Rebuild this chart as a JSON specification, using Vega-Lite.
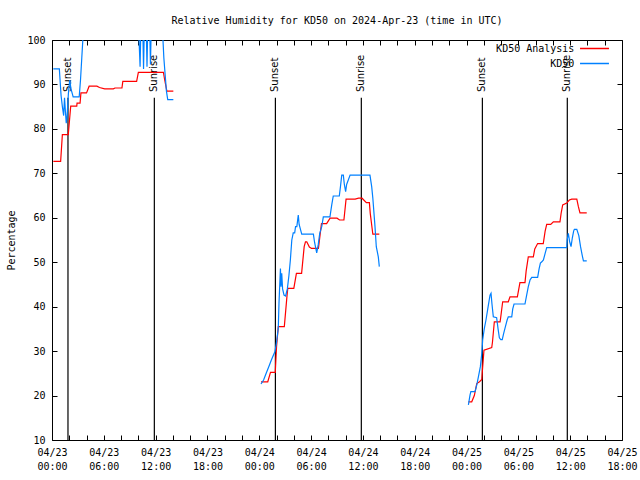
{
  "$schema": "https://vega.github.io/schema/vega-lite/v6.json",
  "width": 570,
  "height": 400,
  "autosize": {"type": "none"},
  "padding": {"left": 52, "top": 40, "right": 18, "bottom": 40},
  "background": "white",
  "title": {"text": "Relative Humidity for KD50 on 2024-Apr-23 (time in UTC)", "font": "DejaVu Sans Mono", "fontSize": 10, "fontWeight": "normal", "anchor": "middle", "baseline": "alphabetic", "offset": 1, "color": "black"},
  "config": {
    "view": {"stroke": "black", "strokeWidth": 1},
    "axis": {"domain": false, "grid": false, "labelFont": "DejaVu Sans Mono", "labelFontSize": 10, "labelColor": "black", "tickColor": "black", "tickSize": -5, "tickWidth": 1, "titleFont": "DejaVu Sans Mono", "titleFontSize": 10, "titleFontWeight": "normal", "titleColor": "black"},
    "legend": {"labelFont": "DejaVu Sans Mono", "labelFontSize": 10, "labelColor": "black"}
  },
  "datasets": {
    "rh": [
      {"time": "2024-04-23T00:09:00Z", "rh": 72.7, "series": "KD50 Analysis", "day": "23"},
      {"time": "2024-04-23T01:00:00Z", "rh": 72.7, "series": "KD50 Analysis", "day": "23"},
      {"time": "2024-04-23T01:12:00Z", "rh": 78.7, "series": "KD50 Analysis", "day": "23"},
      {"time": "2024-04-23T01:53:00Z", "rh": 78.7, "series": "KD50 Analysis", "day": "23"},
      {"time": "2024-04-23T02:10:00Z", "rh": 85.1, "series": "KD50 Analysis", "day": "23"},
      {"time": "2024-04-23T02:52:00Z", "rh": 85.1, "series": "KD50 Analysis", "day": "23"},
      {"time": "2024-04-23T02:54:00Z", "rh": 85.8, "series": "KD50 Analysis", "day": "23"},
      {"time": "2024-04-23T03:15:00Z", "rh": 85.8, "series": "KD50 Analysis", "day": "23"},
      {"time": "2024-04-23T03:21:00Z", "rh": 88.1, "series": "KD50 Analysis", "day": "23"},
      {"time": "2024-04-23T04:00:00Z", "rh": 88.1, "series": "KD50 Analysis", "day": "23"},
      {"time": "2024-04-23T04:18:00Z", "rh": 89.6, "series": "KD50 Analysis", "day": "23"},
      {"time": "2024-04-23T05:12:00Z", "rh": 89.6, "series": "KD50 Analysis", "day": "23"},
      {"time": "2024-04-23T05:30:00Z", "rh": 89.3, "series": "KD50 Analysis", "day": "23"},
      {"time": "2024-04-23T06:06:00Z", "rh": 89.0, "series": "KD50 Analysis", "day": "23"},
      {"time": "2024-04-23T07:06:00Z", "rh": 89.0, "series": "KD50 Analysis", "day": "23"},
      {"time": "2024-04-23T07:18:00Z", "rh": 89.2, "series": "KD50 Analysis", "day": "23"},
      {"time": "2024-04-23T08:06:00Z", "rh": 89.2, "series": "KD50 Analysis", "day": "23"},
      {"time": "2024-04-23T08:12:00Z", "rh": 90.7, "series": "KD50 Analysis", "day": "23"},
      {"time": "2024-04-23T09:48:00Z", "rh": 90.7, "series": "KD50 Analysis", "day": "23"},
      {"time": "2024-04-23T10:00:00Z", "rh": 92.7, "series": "KD50 Analysis", "day": "23"},
      {"time": "2024-04-23T12:54:00Z", "rh": 92.7, "series": "KD50 Analysis", "day": "23"},
      {"time": "2024-04-23T13:03:00Z", "rh": 91.0, "series": "KD50 Analysis", "day": "23"},
      {"time": "2024-04-23T13:18:00Z", "rh": 88.5, "series": "KD50 Analysis", "day": "23"},
      {"time": "2024-04-23T14:03:00Z", "rh": 88.5, "series": "KD50 Analysis", "day": "23"},

      {"time": "2024-04-24T00:12:00Z", "rh": 23.1, "series": "KD50 Analysis", "day": "24"},
      {"time": "2024-04-24T00:59:00Z", "rh": 23.1, "series": "KD50 Analysis", "day": "24"},
      {"time": "2024-04-24T01:18:00Z", "rh": 25.2, "series": "KD50 Analysis", "day": "24"},
      {"time": "2024-04-24T01:51:00Z", "rh": 25.2, "series": "KD50 Analysis", "day": "24"},
      {"time": "2024-04-24T02:00:00Z", "rh": 31.0, "series": "KD50 Analysis", "day": "24"},
      {"time": "2024-04-24T02:12:00Z", "rh": 35.5, "series": "KD50 Analysis", "day": "24"},
      {"time": "2024-04-24T02:54:00Z", "rh": 35.5, "series": "KD50 Analysis", "day": "24"},
      {"time": "2024-04-24T03:12:00Z", "rh": 42.2, "series": "KD50 Analysis", "day": "24"},
      {"time": "2024-04-24T03:18:00Z", "rh": 44.1, "series": "KD50 Analysis", "day": "24"},
      {"time": "2024-04-24T04:00:00Z", "rh": 44.1, "series": "KD50 Analysis", "day": "24"},
      {"time": "2024-04-24T04:18:00Z", "rh": 47.5, "series": "KD50 Analysis", "day": "24"},
      {"time": "2024-04-24T04:54:00Z", "rh": 47.5, "series": "KD50 Analysis", "day": "24"},
      {"time": "2024-04-24T05:12:00Z", "rh": 53.5, "series": "KD50 Analysis", "day": "24"},
      {"time": "2024-04-24T05:21:00Z", "rh": 54.6, "series": "KD50 Analysis", "day": "24"},
      {"time": "2024-04-24T05:30:00Z", "rh": 54.6, "series": "KD50 Analysis", "day": "24"},
      {"time": "2024-04-24T05:48:00Z", "rh": 53.4, "series": "KD50 Analysis", "day": "24"},
      {"time": "2024-04-24T06:03:00Z", "rh": 53.1, "series": "KD50 Analysis", "day": "24"},
      {"time": "2024-04-24T06:51:00Z", "rh": 53.1, "series": "KD50 Analysis", "day": "24"},
      {"time": "2024-04-24T07:12:00Z", "rh": 58.7, "series": "KD50 Analysis", "day": "24"},
      {"time": "2024-04-24T07:48:00Z", "rh": 58.7, "series": "KD50 Analysis", "day": "24"},
      {"time": "2024-04-24T08:12:00Z", "rh": 59.9, "series": "KD50 Analysis", "day": "24"},
      {"time": "2024-04-24T09:00:00Z", "rh": 59.9, "series": "KD50 Analysis", "day": "24"},
      {"time": "2024-04-24T09:18:00Z", "rh": 59.5, "series": "KD50 Analysis", "day": "24"},
      {"time": "2024-04-24T09:48:00Z", "rh": 59.5, "series": "KD50 Analysis", "day": "24"},
      {"time": "2024-04-24T10:03:00Z", "rh": 64.2, "series": "KD50 Analysis", "day": "24"},
      {"time": "2024-04-24T11:06:00Z", "rh": 64.2, "series": "KD50 Analysis", "day": "24"},
      {"time": "2024-04-24T11:30:00Z", "rh": 64.4, "series": "KD50 Analysis", "day": "24"},
      {"time": "2024-04-24T11:54:00Z", "rh": 64.4, "series": "KD50 Analysis", "day": "24"},
      {"time": "2024-04-24T12:24:00Z", "rh": 63.4, "series": "KD50 Analysis", "day": "24"},
      {"time": "2024-04-24T12:45:00Z", "rh": 63.4, "series": "KD50 Analysis", "day": "24"},
      {"time": "2024-04-24T12:51:00Z", "rh": 61.0, "series": "KD50 Analysis", "day": "24"},
      {"time": "2024-04-24T13:09:00Z", "rh": 56.3, "series": "KD50 Analysis", "day": "24"},
      {"time": "2024-04-24T13:54:00Z", "rh": 56.3, "series": "KD50 Analysis", "day": "24"},

      {"time": "2024-04-25T00:13:00Z", "rh": 18.6, "series": "KD50 Analysis", "day": "25"},
      {"time": "2024-04-25T00:36:00Z", "rh": 18.6, "series": "KD50 Analysis", "day": "25"},
      {"time": "2024-04-25T00:54:00Z", "rh": 20.0, "series": "KD50 Analysis", "day": "25"},
      {"time": "2024-04-25T01:11:00Z", "rh": 22.7, "series": "KD50 Analysis", "day": "25"},
      {"time": "2024-04-25T01:30:00Z", "rh": 23.1, "series": "KD50 Analysis", "day": "25"},
      {"time": "2024-04-25T01:46:00Z", "rh": 23.6, "series": "KD50 Analysis", "day": "25"},
      {"time": "2024-04-25T01:51:00Z", "rh": 26.0, "series": "KD50 Analysis", "day": "25"},
      {"time": "2024-04-25T02:01:00Z", "rh": 30.2, "series": "KD50 Analysis", "day": "25"},
      {"time": "2024-04-25T02:55:00Z", "rh": 30.8, "series": "KD50 Analysis", "day": "25"},
      {"time": "2024-04-25T03:00:00Z", "rh": 32.0, "series": "KD50 Analysis", "day": "25"},
      {"time": "2024-04-25T03:13:00Z", "rh": 36.6, "series": "KD50 Analysis", "day": "25"},
      {"time": "2024-04-25T03:53:00Z", "rh": 36.6, "series": "KD50 Analysis", "day": "25"},
      {"time": "2024-04-25T03:57:00Z", "rh": 37.5, "series": "KD50 Analysis", "day": "25"},
      {"time": "2024-04-25T04:11:00Z", "rh": 41.1, "series": "KD50 Analysis", "day": "25"},
      {"time": "2024-04-25T04:50:00Z", "rh": 41.1, "series": "KD50 Analysis", "day": "25"},
      {"time": "2024-04-25T05:02:00Z", "rh": 42.2, "series": "KD50 Analysis", "day": "25"},
      {"time": "2024-04-25T05:53:00Z", "rh": 42.2, "series": "KD50 Analysis", "day": "25"},
      {"time": "2024-04-25T06:11:00Z", "rh": 45.4, "series": "KD50 Analysis", "day": "25"},
      {"time": "2024-04-25T06:46:00Z", "rh": 45.4, "series": "KD50 Analysis", "day": "25"},
      {"time": "2024-04-25T06:54:00Z", "rh": 48.0, "series": "KD50 Analysis", "day": "25"},
      {"time": "2024-04-25T07:09:00Z", "rh": 51.2, "series": "KD50 Analysis", "day": "25"},
      {"time": "2024-04-25T07:44:00Z", "rh": 51.2, "series": "KD50 Analysis", "day": "25"},
      {"time": "2024-04-25T07:54:00Z", "rh": 53.0, "series": "KD50 Analysis", "day": "25"},
      {"time": "2024-04-25T08:14:00Z", "rh": 54.2, "series": "KD50 Analysis", "day": "25"},
      {"time": "2024-04-25T08:53:00Z", "rh": 54.2, "series": "KD50 Analysis", "day": "25"},
      {"time": "2024-04-25T09:06:00Z", "rh": 57.0, "series": "KD50 Analysis", "day": "25"},
      {"time": "2024-04-25T09:17:00Z", "rh": 58.5, "series": "KD50 Analysis", "day": "25"},
      {"time": "2024-04-25T09:45:00Z", "rh": 58.5, "series": "KD50 Analysis", "day": "25"},
      {"time": "2024-04-25T10:03:00Z", "rh": 59.1, "series": "KD50 Analysis", "day": "25"},
      {"time": "2024-04-25T10:49:00Z", "rh": 59.1, "series": "KD50 Analysis", "day": "25"},
      {"time": "2024-04-25T10:57:00Z", "rh": 61.0, "series": "KD50 Analysis", "day": "25"},
      {"time": "2024-04-25T11:08:00Z", "rh": 62.9, "series": "KD50 Analysis", "day": "25"},
      {"time": "2024-04-25T11:36:00Z", "rh": 63.3, "series": "KD50 Analysis", "day": "25"},
      {"time": "2024-04-25T11:54:00Z", "rh": 64.0, "series": "KD50 Analysis", "day": "25"},
      {"time": "2024-04-25T12:11:00Z", "rh": 64.2, "series": "KD50 Analysis", "day": "25"},
      {"time": "2024-04-25T12:46:00Z", "rh": 64.2, "series": "KD50 Analysis", "day": "25"},
      {"time": "2024-04-25T12:57:00Z", "rh": 62.5, "series": "KD50 Analysis", "day": "25"},
      {"time": "2024-04-25T13:08:00Z", "rh": 61.1, "series": "KD50 Analysis", "day": "25"},
      {"time": "2024-04-25T13:55:00Z", "rh": 61.1, "series": "KD50 Analysis", "day": "25"},

      {"time": "2024-04-23T00:09:00Z", "rh": 93.5, "series": "KD50", "day": "23"},
      {"time": "2024-04-23T00:51:00Z", "rh": 93.5, "series": "KD50", "day": "23"},
      {"time": "2024-04-23T00:57:00Z", "rh": 90.5, "series": "KD50", "day": "23"},
      {"time": "2024-04-23T01:03:00Z", "rh": 87.5, "series": "KD50", "day": "23"},
      {"time": "2024-04-23T01:12:00Z", "rh": 85.0, "series": "KD50", "day": "23"},
      {"time": "2024-04-23T01:21:00Z", "rh": 83.0, "series": "KD50", "day": "23"},
      {"time": "2024-04-23T01:27:00Z", "rh": 87.0, "series": "KD50", "day": "23"},
      {"time": "2024-04-23T01:33:00Z", "rh": 84.0, "series": "KD50", "day": "23"},
      {"time": "2024-04-23T01:39:00Z", "rh": 81.3, "series": "KD50", "day": "23"},
      {"time": "2024-04-23T01:45:00Z", "rh": 83.0, "series": "KD50", "day": "23"},
      {"time": "2024-04-23T01:54:00Z", "rh": 88.0, "series": "KD50", "day": "23"},
      {"time": "2024-04-23T02:03:00Z", "rh": 91.0, "series": "KD50", "day": "23"},
      {"time": "2024-04-23T02:12:00Z", "rh": 89.0, "series": "KD50", "day": "23"},
      {"time": "2024-04-23T02:27:00Z", "rh": 87.2, "series": "KD50", "day": "23"},
      {"time": "2024-04-23T03:09:00Z", "rh": 87.2, "series": "KD50", "day": "23"},
      {"time": "2024-04-23T03:18:00Z", "rh": 91.0, "series": "KD50", "day": "23"},
      {"time": "2024-04-23T03:27:00Z", "rh": 96.0, "series": "KD50", "day": "23"},
      {"time": "2024-04-23T03:36:00Z", "rh": 101.0, "series": "KD50", "day": "23"},
      {"time": "2024-04-23T03:45:00Z", "rh": 104.0, "series": "KD50", "day": "23"},
      {"time": "2024-04-23T10:00:00Z", "rh": 104.0, "series": "KD50", "day": "23"},
      {"time": "2024-04-23T10:12:00Z", "rh": 94.0, "series": "KD50", "day": "23"},
      {"time": "2024-04-23T10:18:00Z", "rh": 104.0, "series": "KD50", "day": "23"},
      {"time": "2024-04-23T10:30:00Z", "rh": 104.0, "series": "KD50", "day": "23"},
      {"time": "2024-04-23T10:36:00Z", "rh": 93.5, "series": "KD50", "day": "23"},
      {"time": "2024-04-23T10:42:00Z", "rh": 104.0, "series": "KD50", "day": "23"},
      {"time": "2024-04-23T10:54:00Z", "rh": 104.0, "series": "KD50", "day": "23"},
      {"time": "2024-04-23T11:00:00Z", "rh": 94.0, "series": "KD50", "day": "23"},
      {"time": "2024-04-23T11:06:00Z", "rh": 104.0, "series": "KD50", "day": "23"},
      {"time": "2024-04-23T11:18:00Z", "rh": 104.0, "series": "KD50", "day": "23"},
      {"time": "2024-04-23T11:24:00Z", "rh": 94.5, "series": "KD50", "day": "23"},
      {"time": "2024-04-23T11:30:00Z", "rh": 104.0, "series": "KD50", "day": "23"},
      {"time": "2024-04-23T12:45:00Z", "rh": 104.0, "series": "KD50", "day": "23"},
      {"time": "2024-04-23T12:57:00Z", "rh": 96.0, "series": "KD50", "day": "23"},
      {"time": "2024-04-23T13:06:00Z", "rh": 92.2, "series": "KD50", "day": "23"},
      {"time": "2024-04-23T13:15:00Z", "rh": 88.5, "series": "KD50", "day": "23"},
      {"time": "2024-04-23T13:24:00Z", "rh": 86.6, "series": "KD50", "day": "23"},
      {"time": "2024-04-23T14:03:00Z", "rh": 86.6, "series": "KD50", "day": "23"},

      {"time": "2024-04-24T00:12:00Z", "rh": 22.6, "series": "KD50", "day": "24"},
      {"time": "2024-04-24T00:30:00Z", "rh": 23.5, "series": "KD50", "day": "24"},
      {"time": "2024-04-24T00:48:00Z", "rh": 25.0, "series": "KD50", "day": "24"},
      {"time": "2024-04-24T01:06:00Z", "rh": 26.5, "series": "KD50", "day": "24"},
      {"time": "2024-04-24T01:24:00Z", "rh": 28.0, "series": "KD50", "day": "24"},
      {"time": "2024-04-24T01:49:00Z", "rh": 29.9, "series": "KD50", "day": "24"},
      {"time": "2024-04-24T02:00:00Z", "rh": 32.0, "series": "KD50", "day": "24"},
      {"time": "2024-04-24T02:12:00Z", "rh": 35.1, "series": "KD50", "day": "24"},
      {"time": "2024-04-24T02:17:00Z", "rh": 40.8, "series": "KD50", "day": "24"},
      {"time": "2024-04-24T02:27:00Z", "rh": 48.6, "series": "KD50", "day": "24"},
      {"time": "2024-04-24T02:31:00Z", "rh": 44.5, "series": "KD50", "day": "24"},
      {"time": "2024-04-24T02:36:00Z", "rh": 47.5, "series": "KD50", "day": "24"},
      {"time": "2024-04-24T02:42:00Z", "rh": 44.0, "series": "KD50", "day": "24"},
      {"time": "2024-04-24T02:52:00Z", "rh": 42.6, "series": "KD50", "day": "24"},
      {"time": "2024-04-24T03:03:00Z", "rh": 42.4, "series": "KD50", "day": "24"},
      {"time": "2024-04-24T03:15:00Z", "rh": 44.0, "series": "KD50", "day": "24"},
      {"time": "2024-04-24T03:26:00Z", "rh": 47.0, "series": "KD50", "day": "24"},
      {"time": "2024-04-24T03:36:00Z", "rh": 50.5, "series": "KD50", "day": "24"},
      {"time": "2024-04-24T03:46:00Z", "rh": 55.0, "series": "KD50", "day": "24"},
      {"time": "2024-04-24T03:56:00Z", "rh": 56.6, "series": "KD50", "day": "24"},
      {"time": "2024-04-24T04:06:00Z", "rh": 56.6, "series": "KD50", "day": "24"},
      {"time": "2024-04-24T04:12:00Z", "rh": 58.0, "series": "KD50", "day": "24"},
      {"time": "2024-04-24T04:21:00Z", "rh": 58.0, "series": "KD50", "day": "24"},
      {"time": "2024-04-24T04:27:00Z", "rh": 59.6, "series": "KD50", "day": "24"},
      {"time": "2024-04-24T04:31:00Z", "rh": 60.6, "series": "KD50", "day": "24"},
      {"time": "2024-04-24T04:37:00Z", "rh": 58.5, "series": "KD50", "day": "24"},
      {"time": "2024-04-24T04:55:00Z", "rh": 56.3, "series": "KD50", "day": "24"},
      {"time": "2024-04-24T06:16:00Z", "rh": 56.3, "series": "KD50", "day": "24"},
      {"time": "2024-04-24T06:24:00Z", "rh": 54.5, "series": "KD50", "day": "24"},
      {"time": "2024-04-24T06:34:00Z", "rh": 52.9, "series": "KD50", "day": "24"},
      {"time": "2024-04-24T06:39:00Z", "rh": 52.1, "series": "KD50", "day": "24"},
      {"time": "2024-04-24T06:50:00Z", "rh": 54.0, "series": "KD50", "day": "24"},
      {"time": "2024-04-24T07:00:00Z", "rh": 56.5, "series": "KD50", "day": "24"},
      {"time": "2024-04-24T07:14:00Z", "rh": 58.0, "series": "KD50", "day": "24"},
      {"time": "2024-04-24T07:25:00Z", "rh": 60.2, "series": "KD50", "day": "24"},
      {"time": "2024-04-24T08:11:00Z", "rh": 60.2, "series": "KD50", "day": "24"},
      {"time": "2024-04-24T08:24:00Z", "rh": 63.0, "series": "KD50", "day": "24"},
      {"time": "2024-04-24T08:34:00Z", "rh": 64.9, "series": "KD50", "day": "24"},
      {"time": "2024-04-24T09:16:00Z", "rh": 64.9, "series": "KD50", "day": "24"},
      {"time": "2024-04-24T09:24:00Z", "rh": 67.0, "series": "KD50", "day": "24"},
      {"time": "2024-04-24T09:33:00Z", "rh": 69.6, "series": "KD50", "day": "24"},
      {"time": "2024-04-24T09:44:00Z", "rh": 69.6, "series": "KD50", "day": "24"},
      {"time": "2024-04-24T09:51:00Z", "rh": 67.5, "series": "KD50", "day": "24"},
      {"time": "2024-04-24T10:00:00Z", "rh": 65.9, "series": "KD50", "day": "24"},
      {"time": "2024-04-24T10:07:00Z", "rh": 67.5, "series": "KD50", "day": "24"},
      {"time": "2024-04-24T10:31:00Z", "rh": 69.6, "series": "KD50", "day": "24"},
      {"time": "2024-04-24T12:49:00Z", "rh": 69.6, "series": "KD50", "day": "24"},
      {"time": "2024-04-24T13:01:00Z", "rh": 67.0, "series": "KD50", "day": "24"},
      {"time": "2024-04-24T13:09:00Z", "rh": 64.4, "series": "KD50", "day": "24"},
      {"time": "2024-04-24T13:24:00Z", "rh": 58.0, "series": "KD50", "day": "24"},
      {"time": "2024-04-24T13:33:00Z", "rh": 53.5, "series": "KD50", "day": "24"},
      {"time": "2024-04-24T13:47:00Z", "rh": 51.2, "series": "KD50", "day": "24"},
      {"time": "2024-04-24T13:54:00Z", "rh": 49.0, "series": "KD50", "day": "24"},

      {"time": "2024-04-25T00:13:00Z", "rh": 17.9, "series": "KD50", "day": "25"},
      {"time": "2024-04-25T00:24:00Z", "rh": 20.1, "series": "KD50", "day": "25"},
      {"time": "2024-04-25T00:30:00Z", "rh": 20.9, "series": "KD50", "day": "25"},
      {"time": "2024-04-25T00:59:00Z", "rh": 20.9, "series": "KD50", "day": "25"},
      {"time": "2024-04-25T01:12:00Z", "rh": 22.5, "series": "KD50", "day": "25"},
      {"time": "2024-04-25T01:24:00Z", "rh": 24.5, "series": "KD50", "day": "25"},
      {"time": "2024-04-25T01:36:00Z", "rh": 26.5, "series": "KD50", "day": "25"},
      {"time": "2024-04-25T01:46:00Z", "rh": 29.5, "series": "KD50", "day": "25"},
      {"time": "2024-04-25T01:52:00Z", "rh": 32.5, "series": "KD50", "day": "25"},
      {"time": "2024-04-25T02:03:00Z", "rh": 35.0, "series": "KD50", "day": "25"},
      {"time": "2024-04-25T02:15:00Z", "rh": 37.0, "series": "KD50", "day": "25"},
      {"time": "2024-04-25T02:30:00Z", "rh": 40.0, "series": "KD50", "day": "25"},
      {"time": "2024-04-25T02:43:00Z", "rh": 42.6, "series": "KD50", "day": "25"},
      {"time": "2024-04-25T02:50:00Z", "rh": 43.0, "series": "KD50", "day": "25"},
      {"time": "2024-04-25T02:57:00Z", "rh": 40.5, "series": "KD50", "day": "25"},
      {"time": "2024-04-25T03:06:00Z", "rh": 37.7, "series": "KD50", "day": "25"},
      {"time": "2024-04-25T03:29:00Z", "rh": 37.5, "series": "KD50", "day": "25"},
      {"time": "2024-04-25T03:39:00Z", "rh": 35.0, "series": "KD50", "day": "25"},
      {"time": "2024-04-25T03:48:00Z", "rh": 33.0, "series": "KD50", "day": "25"},
      {"time": "2024-04-25T03:58:00Z", "rh": 32.6, "series": "KD50", "day": "25"},
      {"time": "2024-04-25T04:08:00Z", "rh": 32.6, "series": "KD50", "day": "25"},
      {"time": "2024-04-25T04:18:00Z", "rh": 34.0, "series": "KD50", "day": "25"},
      {"time": "2024-04-25T04:30:00Z", "rh": 35.5, "series": "KD50", "day": "25"},
      {"time": "2024-04-25T04:42:00Z", "rh": 37.0, "series": "KD50", "day": "25"},
      {"time": "2024-04-25T04:50:00Z", "rh": 37.7, "series": "KD50", "day": "25"},
      {"time": "2024-04-25T05:14:00Z", "rh": 37.7, "series": "KD50", "day": "25"},
      {"time": "2024-04-25T05:21:00Z", "rh": 39.5, "series": "KD50", "day": "25"},
      {"time": "2024-04-25T05:30:00Z", "rh": 40.6, "series": "KD50", "day": "25"},
      {"time": "2024-04-25T06:46:00Z", "rh": 40.6, "series": "KD50", "day": "25"},
      {"time": "2024-04-25T06:57:00Z", "rh": 42.5, "series": "KD50", "day": "25"},
      {"time": "2024-04-25T07:09:00Z", "rh": 44.5, "series": "KD50", "day": "25"},
      {"time": "2024-04-25T07:21:00Z", "rh": 46.0, "series": "KD50", "day": "25"},
      {"time": "2024-04-25T07:33:00Z", "rh": 46.6, "series": "KD50", "day": "25"},
      {"time": "2024-04-25T08:14:00Z", "rh": 46.6, "series": "KD50", "day": "25"},
      {"time": "2024-04-25T08:24:00Z", "rh": 48.5, "series": "KD50", "day": "25"},
      {"time": "2024-04-25T08:33:00Z", "rh": 49.8, "series": "KD50", "day": "25"},
      {"time": "2024-04-25T08:43:00Z", "rh": 50.1, "series": "KD50", "day": "25"},
      {"time": "2024-04-25T08:54:00Z", "rh": 50.5, "series": "KD50", "day": "25"},
      {"time": "2024-04-25T09:06:00Z", "rh": 52.0, "series": "KD50", "day": "25"},
      {"time": "2024-04-25T09:17:00Z", "rh": 53.3, "series": "KD50", "day": "25"},
      {"time": "2024-04-25T11:36:00Z", "rh": 53.3, "series": "KD50", "day": "25"},
      {"time": "2024-04-25T11:39:00Z", "rh": 55.0, "series": "KD50", "day": "25"},
      {"time": "2024-04-25T11:47:00Z", "rh": 56.5, "series": "KD50", "day": "25"},
      {"time": "2024-04-25T11:57:00Z", "rh": 54.5, "series": "KD50", "day": "25"},
      {"time": "2024-04-25T12:06:00Z", "rh": 53.5, "series": "KD50", "day": "25"},
      {"time": "2024-04-25T12:15:00Z", "rh": 55.5, "series": "KD50", "day": "25"},
      {"time": "2024-04-25T12:24:00Z", "rh": 57.0, "series": "KD50", "day": "25"},
      {"time": "2024-04-25T12:29:00Z", "rh": 57.4, "series": "KD50", "day": "25"},
      {"time": "2024-04-25T12:46:00Z", "rh": 57.4, "series": "KD50", "day": "25"},
      {"time": "2024-04-25T13:00:00Z", "rh": 56.0, "series": "KD50", "day": "25"},
      {"time": "2024-04-25T13:12:00Z", "rh": 53.5, "series": "KD50", "day": "25"},
      {"time": "2024-04-25T13:24:00Z", "rh": 51.5, "series": "KD50", "day": "25"},
      {"time": "2024-04-25T13:32:00Z", "rh": 50.3, "series": "KD50", "day": "25"},
      {"time": "2024-04-25T13:55:00Z", "rh": 50.3, "series": "KD50", "day": "25"}
    ],
    "sun": [
      {"time": "2024-04-23T01:51:00Z", "event": "Sunset"},
      {"time": "2024-04-23T11:51:00Z", "event": "Sunrise"},
      {"time": "2024-04-24T01:52:00Z", "event": "Sunset"},
      {"time": "2024-04-24T11:49:00Z", "event": "Sunrise"},
      {"time": "2024-04-25T01:50:00Z", "event": "Sunset"},
      {"time": "2024-04-25T11:40:00Z", "event": "Sunrise"}
    ]
  },
  "layer": [
    {
      "data": {"name": "sun"},
      "mark": {"type": "rule", "color": "black", "strokeWidth": 1.2},
      "encoding": {
        "x": {"field": "time", "type": "temporal", "scale": {"type": "utc", "domain": [1713830400000, 1714068000000]},
              "axis": {"orient": "top", "values": [1713830400000, 1713837600000, 1713844800000, 1713852000000, 1713859200000, 1713866400000, 1713873600000, 1713880800000, 1713888000000, 1713895200000, 1713902400000, 1713909600000, 1713916800000, 1713924000000, 1713931200000, 1713938400000, 1713945600000, 1713952800000, 1713960000000, 1713967200000, 1713974400000, 1713981600000, 1713988800000, 1713996000000, 1714003200000, 1714010400000, 1714017600000, 1714024800000, 1714032000000, 1714039200000, 1714046400000, 1714053600000, 1714060800000, 1714068000000], "labels": false, "title": null}},
        "y": {"datum": 87, "type": "quantitative", "scale": {"domain": [10, 100]}, "axis": {"orient": "right", "values": [10, 20, 30, 40, 50, 60, 70, 80, 90, 100], "labels": false, "title": null}},
        "y2": {"datum": 10}
      }
    },
    {
      "data": {"name": "sun"},
      "mark": {"type": "text", "angle": 270, "align": "left", "baseline": "middle", "font": "DejaVu Sans", "fontSize": 10, "color": "black"},
      "encoding": {
        "x": {"field": "time", "type": "temporal", "axis": null},
        "y": {"datum": 88.3, "type": "quantitative", "axis": null},
        "text": {"field": "event"}
      }
    },
    {
      "data": {"name": "rh"},
      "mark": {"type": "line", "strokeWidth": 1.2, "clip": true},
      "encoding": {
        "x": {"field": "time", "type": "temporal",
              "axis": {"orient": "bottom", "values": [1713830400000, 1713837600000, 1713844800000, 1713852000000, 1713859200000, 1713866400000, 1713873600000, 1713880800000, 1713888000000, 1713895200000, 1713902400000, 1713909600000, 1713916800000, 1713924000000, 1713931200000, 1713938400000, 1713945600000, 1713952800000, 1713960000000, 1713967200000, 1713974400000, 1713981600000, 1713988800000, 1713996000000, 1714003200000, 1714010400000, 1714017600000, 1714024800000, 1714032000000, 1714039200000, 1714046400000, 1714053600000, 1714060800000, 1714068000000], "labelExpr": "utchours(datum.value) % 6 == 0 ? [utcFormat(datum.value, '%m/%d'), utcFormat(datum.value, '%H:%M')] : ''", "labelPadding": 12, "labelLineHeight": 14, "labelFlush": false, "labelOverlap": false, "labelBound": false, "title": null}},
        "y": {"field": "rh", "type": "quantitative",
              "axis": {"orient": "left", "values": [10, 20, 30, 40, 50, 60, 70, 80, 90, 100], "labelPadding": 12, "title": "Percentage", "titlePadding": 10}},
        "color": {"field": "series", "type": "nominal", "sort": ["KD50 Analysis", "KD50"],
                  "scale": {"domain": ["KD50 Analysis", "KD50"], "range": ["#ff0000", "#0080ff"]},
                  "legend": {"orient": "none", "legendX": 449, "legendY": -1, "title": null, "symbolType": "M-1.67,0L1.67,0", "symbolSize": 300, "symbolStrokeWidth": 1.5, "labelAlign": "right", "symbolOffset": 84, "labelOffset": -29.6, "padding": 0, "rowPadding": 0}},
        "detail": {"field": "day"},
        "order": {"field": "time", "type": "temporal"}
      }
    }
  ],
  "resolve": {"axis": {"x": "independent", "y": "independent"}}
}
